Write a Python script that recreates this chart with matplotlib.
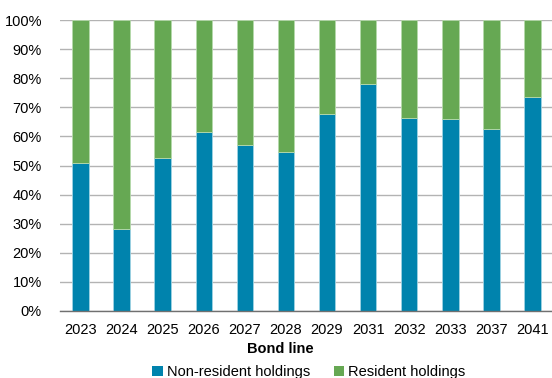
import matplotlib
matplotlib.use("Agg")
import matplotlib.pyplot as plt
from matplotlib.patches import Patch
import numpy as np

categories = ["2023", "2024", "2025", "2026", "2027", "2028", "2029", "2031", "2032", "2033", "2037", "2041"]
non_resident = [51.0, 28.1, 52.7, 61.5, 57.0, 54.7, 67.8, 78.1, 66.4, 66.0, 62.6, 73.6]
resident = [100 - v for v in non_resident]
yticks = [0, 10, 20, 30, 40, 50, 60, 70, 80, 90, 100]
ytick_labels = [f"{t}%" for t in yticks]

blue = "#0083AD"
green = "#66A853"

plt.rcParams['font.family'] = ['Liberation Sans', 'DejaVu Sans']

W, H = 552, 378
fig = plt.figure(figsize=(W / 100, H / 100), dpi=100)
ax = fig.add_axes([60 / W, (H - 311) / H, (553 - 60) / W, (311 - 20) / H])

x = np.arange(len(categories))
ax.bar(x, non_resident, width=0.4, color=blue, edgecolor="#9fd3e3", linewidth=0.6, zorder=3)
ax.bar(x, resident, bottom=non_resident, width=0.4, color=green, edgecolor="#b5d9ab", linewidth=0.6, zorder=3)

ax.set_xlim(-0.5, len(categories) - 0.5)
ax.set_ylim(0, 100)
ax.set_yticks(yticks)
ax.set_yticklabels(ytick_labels)
ax.set_xticks(x)
ax.set_xticklabels(categories)
ax.tick_params(axis='both', length=0, labelsize=10.5, colors="#000000")
ax.tick_params(axis='y', pad=13)
ax.tick_params(axis='x', pad=9)
ax.yaxis.grid(True, color="#b3b3b3", linewidth=1.0, zorder=0)
ax.set_axisbelow(True)
for s in ["top", "right", "left"]:
    ax.spines[s].set_visible(False)
ax.spines["bottom"].set_color("#707070")
ax.spines["bottom"].set_linewidth(1.0)
ax.spines["bottom"].set_zorder(4)

fig.text(280 / W, 1 - 349 / H, "Bond line", ha="center", va="center", fontsize=10.5, fontweight="bold")

handles = [Patch(facecolor=blue, edgecolor="none", label="Non-resident holdings"),
           Patch(facecolor=green, edgecolor="none", label="Resident holdings")]
fig.legend(handles=handles, loc="center", bbox_to_anchor=(309 / W, 1 - 372 / H), ncol=2, frameon=False,
           fontsize=10.5, handlelength=0.7, handleheight=0.7, handletextpad=0.3, columnspacing=1.6,
           borderpad=0, borderaxespad=0)

fig.savefig("out.png", dpi=100)
